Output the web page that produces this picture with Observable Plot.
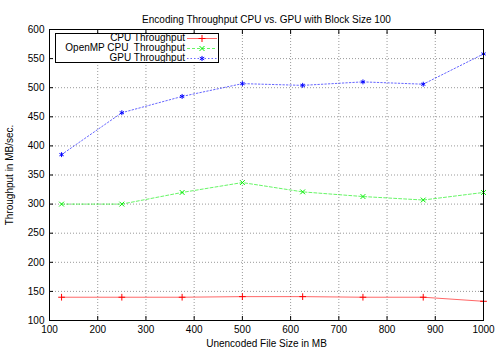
<!DOCTYPE html>
<html>
<head>
<meta charset="utf-8">
<script src="https://cdn.jsdelivr.net/npm/d3@7"></script>
<script src="https://cdn.jsdelivr.net/npm/@observablehq/plot@0.6"></script>
<style>
  body { margin: 0; background: #fff; }
  #wrap { position: relative; width: 500px; height: 350px; font-family: "Liberation Sans", Arial, sans-serif; }
  #legend { position: absolute; left: 55px; top: 33px; width: 162px; height: 28px; border: 1px solid #000; background: #fff; font-size: 10px; }
  .row { position: absolute; left: 0; height: 10px; width: 162px; }
  .row span { position: absolute; right: 33px; top: 0; white-space: pre; line-height: 10px; }
  .row svg { position: absolute; left: 131px; top: 0; }
</style>
</head>
<body>
<div id="wrap"></div>
<script>
const title = "Encoding Throughput CPU vs. GPU with Block Size 100";
const xLabel = "Unencoded File Size in MB";
const yLabel = "Throughput in MB/sec.";
const fileSizes = [125, 250, 375, 500, 625, 750, 875, 1000];
const seriesNames = ["CPU Throughput", "OpenMP CPU  Throughput", "GPU Throughput"];
const cpu = [140, 140, 140, 141, 141, 140, 140, 133];
const openmp = [300, 300, 320, 337, 321, 313, 307, 320];
const gpu = [385, 457, 485, 507, 504, 510, 506, 558];
const xTicks = [100, 200, 300, 400, 500, 600, 700, 800, 900, 1000];
const yTicks = [100, 150, 200, 250, 300, 350, 400, 450, 500, 550, 600];

const colors = ["#ff0000", "#00ee00", "#0000ff"];
const dashes = [null, "3,2", "1.5,2"];
const symbols = ["plus", "times", "asterisk"];

const values = [cpu, openmp, gpu];
const data = [];
values.forEach((arr, s) => arr.forEach((v, i) => data.push({series: seriesNames[s], x: fileSizes[i], y: v, s})));

const lineMarks = [];
values.forEach((arr, s) => {
  const d = data.filter(r => r.s === s);
  lineMarks.push(Plot.line(d, {x: "x", y: "y", stroke: colors[s], strokeWidth: 1, strokeOpacity: 0.6, strokeDasharray: dashes[s]}));
  lineMarks.push(Plot.dot(d, {x: "x", y: "y", stroke: colors[s], symbol: () => symbols[s], r: 2.3, strokeWidth: 1}));
});

const chart = Plot.plot({
  width: 500,
  height: 350,
  marginLeft: 49,
  marginRight: 17,
  marginTop: 29,
  marginBottom: 30,
  style: {fontFamily: "Liberation Sans, Arial, sans-serif", fontSize: "10px", color: "#000", background: "#fff"},
  x: {domain: [100, 1000], ticks: xTicks, tickFormat: d => String(d)},
  y: {domain: [100, 600], ticks: yTicks, tickFormat: d => String(d)},
  marks: [
    Plot.gridX(xTicks, {stroke: "#999", strokeOpacity: 1, strokeDasharray: "1,2"}),
    Plot.gridY(yTicks, {stroke: "#999", strokeOpacity: 1, strokeDasharray: "1,2"}),
    Plot.axisX(xTicks, {anchor: "bottom", tickSize: 0, tickPadding: 5, tickFormat: d => String(d), label: xLabel, labelAnchor: "center", labelArrow: "none", labelOffset: 26, fontSize: 10}),
    Plot.axisX(xTicks, {anchor: "bottom", tickSize: -4, text: null, label: null}),
    Plot.axisX(xTicks, {anchor: "top", tickSize: -4, text: null, label: null}),
    Plot.axisY(yTicks, {anchor: "left", tickSize: 0, tickPadding: 5, tickFormat: d => String(d), label: yLabel, labelAnchor: "center", labelArrow: "none", labelOffset: 44, fontSize: 10}),
    Plot.axisY(yTicks, {anchor: "left", tickSize: -4, text: null, label: null}),
    Plot.axisY(yTicks, {anchor: "right", tickSize: -4, text: null, label: null}),
    ...lineMarks,
    Plot.frame({stroke: "#000", strokeWidth: 1}),
    Plot.text([title], {frameAnchor: "top", dy: -14, fontSize: 10, text: d => d})
  ]
});
const wrap = document.getElementById("wrap");
wrap.appendChild(chart);

const legend = document.createElement("div");
legend.id = "legend";
seriesNames.forEach((name, s) => {
  const row = document.createElement("div");
  row.className = "row";
  row.style.top = (-1 + s * 10) + "px";
  const span = document.createElement("span");
  span.textContent = name;
  row.appendChild(span);
  const ns = "http://www.w3.org/2000/svg";
  const svg = document.createElementNS(ns, "svg");
  svg.setAttribute("width", 30); svg.setAttribute("height", 10);
  const ln = document.createElementNS(ns, "line");
  ln.setAttribute("x1", 0); ln.setAttribute("x2", 30); ln.setAttribute("y1", 5.5); ln.setAttribute("y2", 5.5);
  ln.setAttribute("stroke", colors[s]); ln.setAttribute("stroke-opacity", 0.6);
  if (dashes[s]) ln.setAttribute("stroke-dasharray", dashes[s]);
  svg.appendChild(ln);
  const sym = d3.symbol(s === 0 ? d3.symbolPlus : s === 1 ? d3.symbolTimes : d3.symbolAsterisk, 18)();
  const p = document.createElementNS(ns, "path");
  p.setAttribute("d", sym); p.setAttribute("transform", "translate(15,5.5)");
  p.setAttribute("fill", "none"); p.setAttribute("stroke", colors[s]);
  svg.appendChild(p);
  row.appendChild(svg);
  legend.appendChild(row);
});
wrap.appendChild(legend);
</script>
</body>
</html>
